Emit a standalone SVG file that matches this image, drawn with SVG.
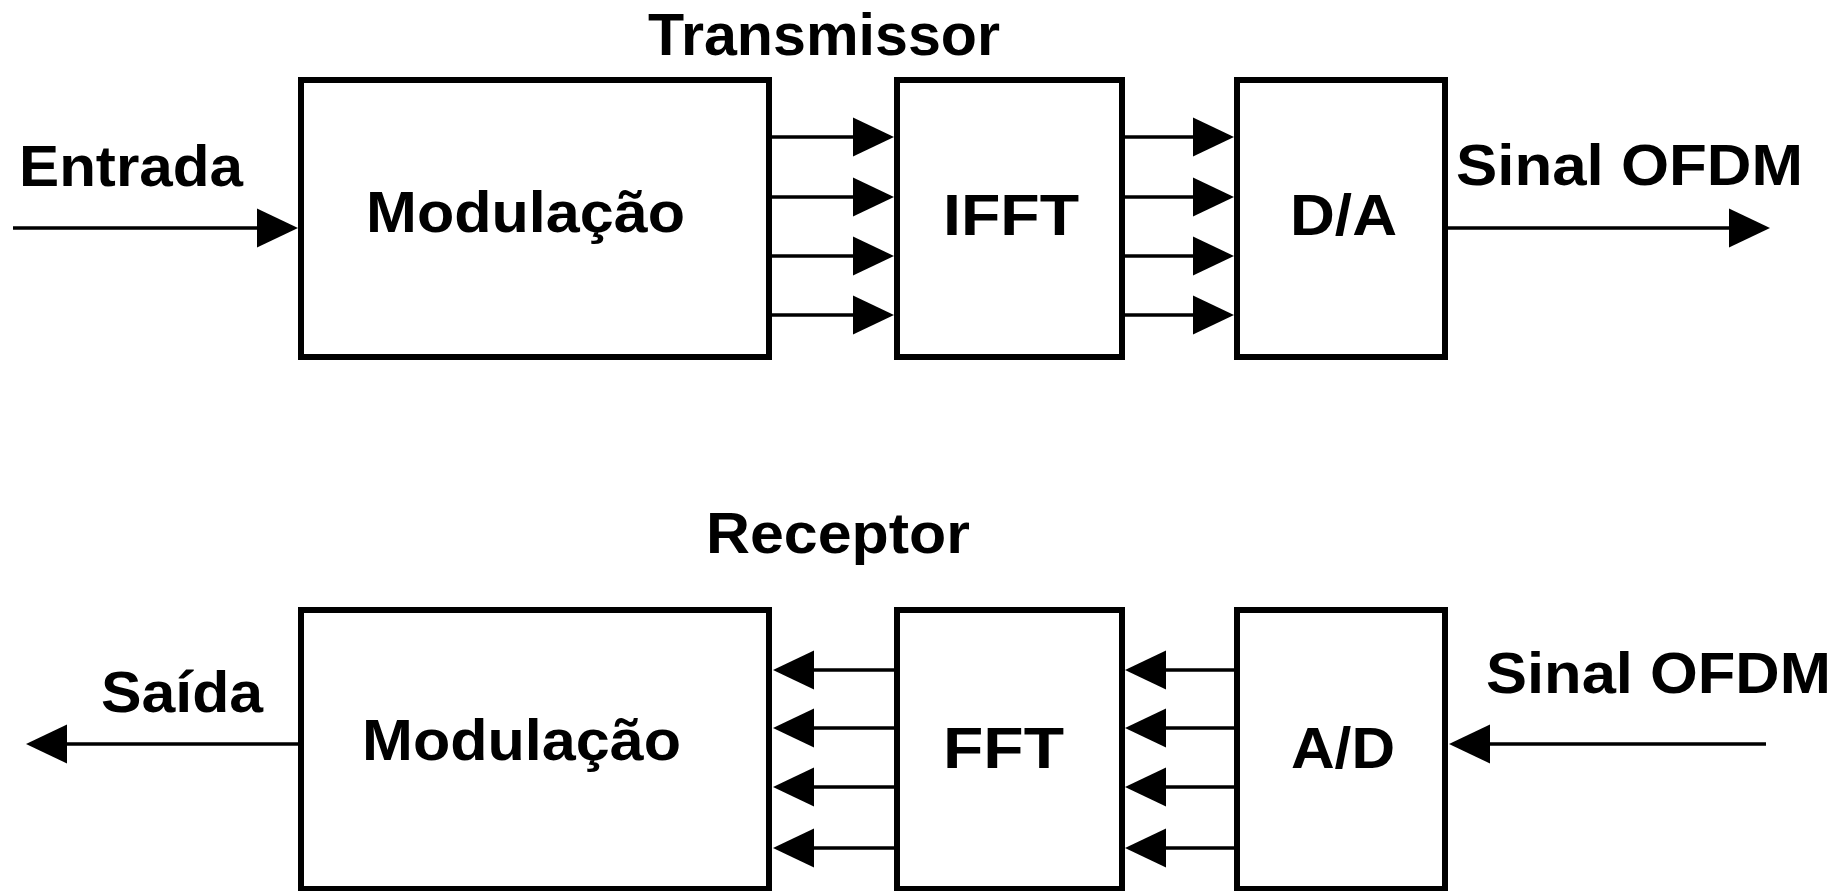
<svg xmlns="http://www.w3.org/2000/svg" xmlns:xlink="http://www.w3.org/1999/xlink" width="1845" height="891" viewBox="0 0 1845 891">
<style>
.box{fill:#fff;stroke:#000;stroke-width:6}
.ln{stroke:#000;stroke-width:3.5;fill:none}
.t{font-family:"Liberation Sans",Arial,sans-serif;font-weight:bold;font-size:57px;fill:#000}
</style>
<defs>
<path id="hr" d="M0,0 L-41,-19.5 L-41,19.5 Z" fill="#000"/>
<path id="hl" d="M0,0 L41,-19.5 L41,19.5 Z" fill="#000"/>
</defs>
<rect width="1845" height="891" fill="#fff"/>
<text class="t" x="648" y="55" textLength="352" lengthAdjust="spacingAndGlyphs" style="font-size:59px">Transmissor</text>
<text class="t" x="706" y="553" textLength="264" lengthAdjust="spacingAndGlyphs">Receptor</text>
<g id="connectors">
<line class="ln" x1="13" y1="228" x2="260" y2="228"/><use xlink:href="#hr" x="298" y="228"/>
<line class="ln" x1="772" y1="137" x2="858" y2="137"/><use xlink:href="#hr" x="894" y="137"/>
<line class="ln" x1="772" y1="197" x2="858" y2="197"/><use xlink:href="#hr" x="894" y="197"/>
<line class="ln" x1="772" y1="256" x2="858" y2="256"/><use xlink:href="#hr" x="894" y="256"/>
<line class="ln" x1="772" y1="315" x2="858" y2="315"/><use xlink:href="#hr" x="894" y="315"/>
<line class="ln" x1="1122" y1="137" x2="1196" y2="137"/><use xlink:href="#hr" x="1234" y="137"/>
<line class="ln" x1="1122" y1="197" x2="1196" y2="197"/><use xlink:href="#hr" x="1234" y="197"/>
<line class="ln" x1="1122" y1="256" x2="1196" y2="256"/><use xlink:href="#hr" x="1234" y="256"/>
<line class="ln" x1="1122" y1="315" x2="1196" y2="315"/><use xlink:href="#hr" x="1234" y="315"/>
<line class="ln" x1="1445" y1="228" x2="1733" y2="228"/><use xlink:href="#hr" x="1770" y="228"/>
<line class="ln" x1="300" y1="744" x2="66" y2="744"/><use xlink:href="#hl" x="26" y="744"/>
<line class="ln" x1="897" y1="670" x2="811" y2="670"/><use xlink:href="#hl" x="773" y="670"/>
<line class="ln" x1="897" y1="728" x2="811" y2="728"/><use xlink:href="#hl" x="773" y="728"/>
<line class="ln" x1="897" y1="787" x2="811" y2="787"/><use xlink:href="#hl" x="773" y="787"/>
<line class="ln" x1="897" y1="848" x2="811" y2="848"/><use xlink:href="#hl" x="773" y="848"/>
<line class="ln" x1="1237" y1="670" x2="1163" y2="670"/><use xlink:href="#hl" x="1125" y="670"/>
<line class="ln" x1="1237" y1="728" x2="1163" y2="728"/><use xlink:href="#hl" x="1125" y="728"/>
<line class="ln" x1="1237" y1="787" x2="1163" y2="787"/><use xlink:href="#hl" x="1125" y="787"/>
<line class="ln" x1="1237" y1="848" x2="1163" y2="848"/><use xlink:href="#hl" x="1125" y="848"/>
<line class="ln" x1="1766" y1="744" x2="1488" y2="744"/><use xlink:href="#hl" x="1449" y="744"/>
</g>
<g id="label-entrada"><text class="t" x="19" y="186" textLength="224" lengthAdjust="spacingAndGlyphs">Entrada</text></g>
<g id="label-sinal-tx"><text class="t" x="1456" y="185" textLength="347" lengthAdjust="spacingAndGlyphs">Sinal OFDM</text></g>
<g id="label-saida"><text class="t" x="101" y="712" textLength="162" lengthAdjust="spacingAndGlyphs">Saída</text></g>
<g id="label-sinal-rx"><text class="t" x="1486" y="693" textLength="345" lengthAdjust="spacingAndGlyphs">Sinal OFDM</text></g>
<g id="tx-mod"><rect class="box" x="301" y="80" width="468" height="277"/><text class="t" x="366" y="232" textLength="319" lengthAdjust="spacingAndGlyphs">Modulação</text></g>
<g id="tx-ifft"><rect class="box" x="897" y="80" width="225" height="277"/><text class="t" x="943" y="235" textLength="136" lengthAdjust="spacingAndGlyphs">IFFT</text></g>
<g id="tx-da"><rect class="box" x="1237" y="80" width="208" height="277"/><text class="t" x="1290" y="235" textLength="107" lengthAdjust="spacingAndGlyphs">D/A</text></g>
<g id="rx-mod"><rect class="box" x="301" y="610" width="468" height="279"/><text class="t" x="362" y="760" textLength="319" lengthAdjust="spacingAndGlyphs">Modulação</text></g>
<g id="rx-fft"><rect class="box" x="897" y="610" width="225" height="279"/><text class="t" x="943" y="768" textLength="121" lengthAdjust="spacingAndGlyphs">FFT</text></g>
<g id="rx-ad"><rect class="box" x="1237" y="610" width="208" height="279"/><text class="t" x="1291" y="768" textLength="104" lengthAdjust="spacingAndGlyphs">A/D</text></g>
</svg>
